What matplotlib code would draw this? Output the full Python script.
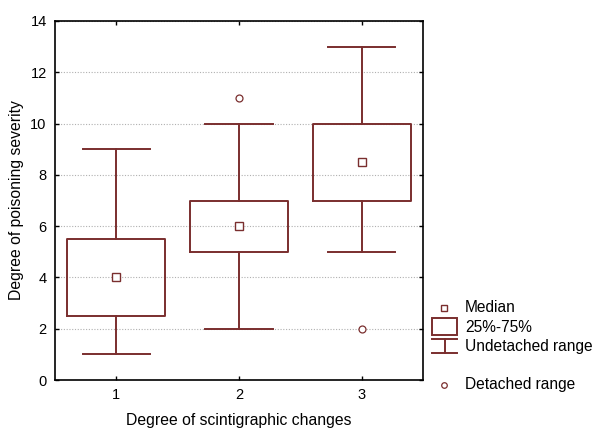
import matplotlib
matplotlib.use("Agg")
import matplotlib.pyplot as plt
from matplotlib.lines import Line2D
from matplotlib.patches import Rectangle

plt.rcParams['font.family'] = ['Liberation Sans', 'DejaVu Sans']

categories = [1, 2, 3]
medians = [4, 6, 8.5]
q25 = [2.5, 5, 7]
q75 = [5.5, 7, 10]
whisk_lo = [1, 2, 5]
whisk_hi = [9, 10, 13]
outliers = [[], [11], [2]]
yticks = [0, 2, 4, 6, 8, 10, 12, 14]

col = '#7a2e2e'
W, H = 594, 429
fig = plt.figure(figsize=(W / 100, H / 100), dpi=100)
ax = fig.add_axes([55 / W, 1 - 380 / H, (423 - 55) / W, (380 - 21) / H])

stats = []
for i, c in enumerate(categories):
    stats.append(dict(med=medians[i], q1=q25[i], q3=q75[i],
                      whislo=whisk_lo[i], whishi=whisk_hi[i],
                      fliers=outliers[i], label=str(c)))
ax.bxp(stats, positions=categories, widths=0.8, capwidths=0.55,
       showfliers=True, patch_artist=False,
       boxprops=dict(color=col, lw=1.4),
       whiskerprops=dict(color=col, lw=1.4),
       capprops=dict(color=col, lw=1.4),
       medianprops=dict(linestyle='none'),
       flierprops=dict(marker='o', markersize=5, markerfacecolor='white',
                       markeredgecolor=col, markeredgewidth=0.9))
ax.plot(categories, medians, linestyle='none', marker='s', markersize=6,
        markerfacecolor='white', markeredgecolor=col, markeredgewidth=1.0,
        zorder=5)

ax.set_xlim(0.5, 3.5)
ax.set_ylim(0, 14)
ax.set_yticks(yticks)
ax.set_xticks(categories)
ax.set_xticklabels([str(c) for c in categories])
ax.yaxis.grid(True, linestyle=(0, (1, 1.5)), color='#b0b0b0', lw=0.8)
ax.set_axisbelow(True)
ax.tick_params(direction='in', length=3, top=True, right=True,
               labelsize=10.5, width=1, pad=6)
for s in ax.spines.values():
    s.set_linewidth(1.2)
ax.set_ylabel('Degree of poisoning severity', fontsize=11.3, va='center')
ax.yaxis.set_label_coords(-(55 - 16) / (423 - 55), 0.5)
ax.set_xlabel('Degree of scintigraphic changes', fontsize=11.3, va='baseline')
ax.xaxis.set_label_coords(0.5, -(425 - 380) / (380 - 21))


def fx(x):
    return x / W


def fy(y):
    return 1 - y / H


# Legend (drawn manually in figure pixels)
fig.add_artist(Line2D([fx(444)], [fy(308)], marker='s', markersize=4.5,
                      markerfacecolor='white', markeredgecolor=col,
                      markeredgewidth=1.0, transform=fig.transFigure))
fig.add_artist(Rectangle((fx(432), fy(335)), fx(457) - fx(432), fy(318) - fy(335),
                         fill=False, edgecolor=col, lw=1.4,
                         transform=fig.transFigure))
fig.add_artist(Line2D([fx(432), fx(457)], [fy(339), fy(339)], color=col, lw=1.4,
                      transform=fig.transFigure))
fig.add_artist(Line2D([fx(432), fx(457)], [fy(353), fy(353)], color=col, lw=1.4,
                      transform=fig.transFigure))
fig.add_artist(Line2D([fx(445), fx(445)], [fy(339), fy(353)], color=col, lw=1.4,
                      transform=fig.transFigure))
fig.add_artist(Line2D([fx(444)], [fy(385)], marker='o', markersize=4,
                      markerfacecolor='white', markeredgecolor=col,
                      markeredgewidth=0.9, transform=fig.transFigure))
for txt, y in [('Median', 308), ('25%-75%', 328), ('Undetached range', 346),
               ('Detached range', 384)]:
    fig.text(fx(465), fy(y), txt, fontsize=11.2, va='center', ha='left')

fig.savefig('out.png', dpi=100)
